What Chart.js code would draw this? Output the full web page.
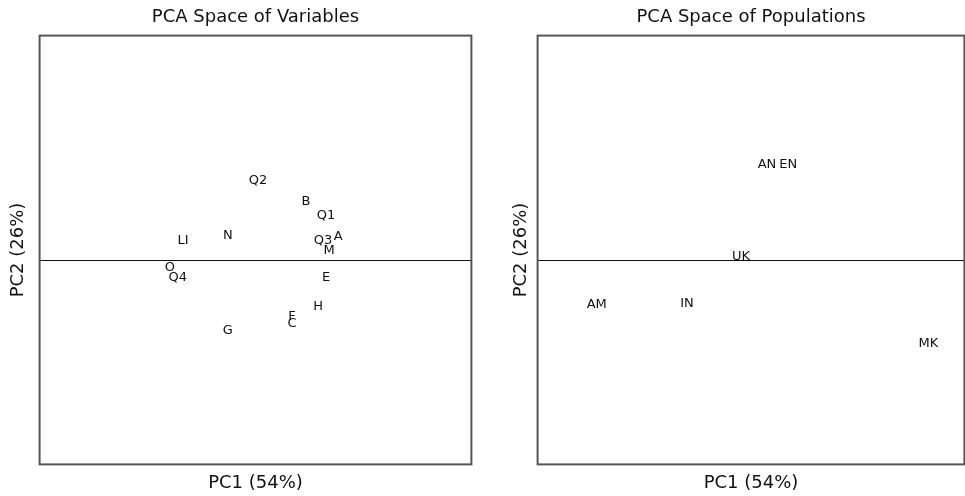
<!DOCTYPE html>
<html lang="en">
<head>
<meta charset="UTF-8">
<title>PCA</title>
<script src="https://cdn.jsdelivr.net/npm/chart.js"></script>
<style>
  html, body { margin: 0; padding: 0; background: #fff; }
  body { width: 965px; height: 496px; position: relative; overflow: hidden; }
  .box { position: absolute; top: 0; height: 496px; }
  #wrapLeft { left: 0; width: 511px; }
  #wrapRight { left: 498px; width: 506px; }
</style>
</head>
<body>
<div class="box" id="wrapLeft"><canvas id="varChart"></canvas></div>
<div class="box" id="wrapRight"><canvas id="popChart"></canvas></div>
<script>
// variables panel
var varLabels = ['Q2', 'B', 'Q1', 'N', 'LI', 'Q3', 'A', 'M', 'O', 'Q4', 'E', 'H', 'F', 'C', 'G'];
var varPC1 = [0.012, 0.234, 0.327, -0.128, -0.336, 0.313, 0.383, 0.341, -0.397, -0.360, 0.327, 0.290, 0.169, 0.169, -0.128];
var varPC2 = [0.374, 0.276, 0.210, 0.117, 0.093, 0.093, 0.112, 0.047, -0.033, -0.079, -0.079, -0.215, -0.262, -0.294, -0.327];

// populations panel
var popLabels = ['AN', 'EN', 'UK', 'AM', 'IN', 'MK'];
var popPC1 = [0.075, 0.174, -0.047, -0.723, -0.300, 0.831];
var popPC2 = [0.449, 0.449, 0.019, -0.206, -0.201, -0.388];

var FONT = 'DejaVu Sans';

// draws the text labels at each point and the frame round the plot
var labelPlugin = {
    id: 'pcaLabels',
    afterDatasetsDraw(chart) {
        var ctx = chart.ctx;
        var meta = chart.getDatasetMeta(0);
        var names = chart.data.datasets[0].names;
        ctx.save();
        ctx.font = '13px "' + FONT + '"';
        ctx.fillStyle = '#111';
        ctx.textAlign = 'center';
        ctx.textBaseline = 'middle';
        meta.data.forEach(function(pt, i) {
            ctx.fillText(names[i], pt.x, pt.y);
        });
        var a = chart.chartArea;
        ctx.strokeStyle = '#555';
        ctx.lineWidth = 2;
        ctx.strokeRect(a.left, a.top, a.right - a.left, a.bottom - a.top);
        ctx.restore();
    }
};

function makeChart(id, title, names, xs, ys, sidePad, yTitleGap) {
    var pts = xs.map(function(x, i) { return {x: x, y: ys[i]}; });
    var yTitle = {
        display: true,
        text: 'PC2 (26%)',
        color: '#111',
        font: { family: FONT, size: 18 },
        padding: { top: 0, bottom: yTitleGap }
    };
    // invisible twin on the right so the plot sits centred under the title
    var yTitleGhost = Object.assign({}, yTitle, { color: 'rgba(0,0,0,0)' });
    return new Chart(document.getElementById(id), {
        type: 'scatter',
        data: {
            datasets: [{
                data: pts,
                names: names,
                pointRadius: 0,
                pointHoverRadius: 0
            }]
        },
        options: {
            responsive: true,
            maintainAspectRatio: false,
            animation: false,
            events: [],
            layout: { padding: { left: sidePad, right: sidePad, top: 0, bottom: 2 } },
            plugins: {
                legend: { display: false },
                tooltip: { enabled: false },
                title: {
                    display: true,
                    text: title,
                    color: '#111',
                    font: { family: FONT, size: 18, weight: 'normal' },
                    padding: { top: 7, bottom: 7 }
                }
            },
            scales: {
                x: {
                    min: -1, max: 1,
                    ticks: { display: false },
                    grid: { display: false, drawTicks: false },
                    border: { display: false },
                    title: {
                        display: true,
                        text: 'PC1 (54%)',
                        color: '#111',
                        font: { family: FONT, size: 18 },
                        padding: { top: 8, bottom: 0 }
                    }
                },
                y: {
                    min: -0.95, max: 1.05,
                    afterBuildTicks: function(axis) { axis.ticks = [{value: 0}]; },
                    ticks: { display: false },
                    grid: { color: '#111', lineWidth: 1, drawTicks: false },
                    border: { display: false },
                    title: yTitle
                },
                y2: {
                    position: 'right',
                    min: -0.95, max: 1.05,
                    ticks: { display: false },
                    grid: { display: false, drawTicks: false },
                    border: { display: false },
                    title: yTitleGhost
                }
            }
        },
        plugins: [labelPlugin]
    });
}

makeChart('varChart', 'PCA Space of Variables', varLabels, varPC1, varPC2, 8, 10);
makeChart('popChart', 'PCA Space of Populations', popLabels, popPC1, popPC2, 13, 5);
</script>
</body>
</html>
